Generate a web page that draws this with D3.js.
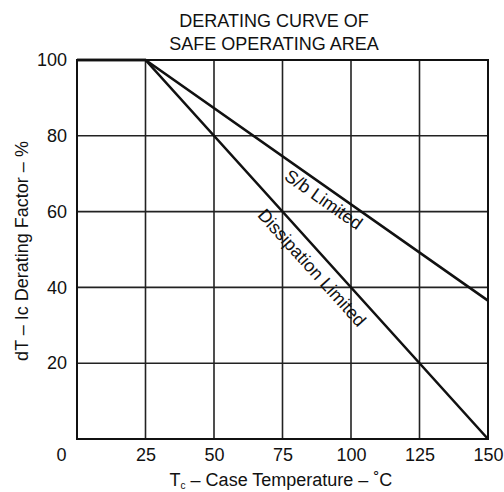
<!DOCTYPE html>
<html>
<head>
<meta charset="utf-8">
<script src="https://cdn.jsdelivr.net/npm/d3@7"></script>
<style>
  body { margin: 0; background: #fff; }
  text { font-family: "Liberation Sans", Arial, sans-serif; fill: #111; }
</style>
</head>
<body>
<div id="chart-container"></div>
<script>
// chart data
const titleLines = ["DERATING CURVE OF", "SAFE OPERATING AREA"];
const xTicks = [0, 25, 50, 75, 100, 125, 150];
const yTicks = [0, 20, 40, 60, 80, 100];
const sbLimited = [[0, 100], [25, 100], [150, 36.5]];
const dissipationLimited = [[0, 100], [25, 100], [150, 0]];

const width = 504, height = 492;
const marginLeft = 77, marginRight = 16, marginTop = 60, marginBottom = 53;
const graphWidth = width - marginLeft - marginRight;
const graphHeight = height - marginTop - marginBottom;

const svg = d3.select("#chart-container")
  .append("svg")
  .attr("width", width)
  .attr("height", height);

const g = svg.append("g")
  .attr("transform", `translate(${marginLeft},${marginTop})`);

const x = d3.scaleLinear().domain([0, 150]).range([0, graphWidth]);
const y = d3.scaleLinear().domain([0, 100]).range([graphHeight, 0]);

// title
svg.selectAll(".title")
  .data(titleLines)
  .enter()
  .append("text")
  .attr("class", "title")
  .attr("x", 274)
  .attr("y", (d, i) => 27 + i * 22.5)
  .attr("text-anchor", "middle")
  .style("font-size", "18px")
  .text(d => d);

// grid
g.selectAll(".vgrid")
  .data(xTicks.slice(1, -1))
  .enter()
  .append("line")
  .attr("x1", d => x(d)).attr("x2", d => x(d))
  .attr("y1", 0).attr("y2", graphHeight)
  .attr("stroke", "#222")
  .attr("stroke-width", 1.6);

g.selectAll(".hgrid")
  .data(yTicks.slice(1, -1))
  .enter()
  .append("line")
  .attr("x1", 0).attr("x2", graphWidth)
  .attr("y1", d => y(d)).attr("y2", d => y(d))
  .attr("stroke", "#222")
  .attr("stroke-width", 1.6);

// frame
g.append("rect")
  .attr("width", graphWidth)
  .attr("height", graphHeight)
  .attr("fill", "none")
  .attr("stroke", "#111")
  .attr("stroke-width", 2);

// axes labels (no tick marks)
const xAxis = g.append("g")
  .attr("transform", `translate(0,${graphHeight})`)
  .call(d3.axisBottom(x).tickValues(xTicks).tickSize(0).tickPadding(9));
xAxis.select(".domain").remove();
xAxis.selectAll("text")
  .style("font-size", "18px")
  .attr("fill", "#111")
  .attr("dx", d => d === 0 ? -16 : 0);

const yAxis = g.append("g")
  .call(d3.axisLeft(y).tickValues(yTicks.slice(1)).tickSize(0).tickPadding(10));
yAxis.select(".domain").remove();
yAxis.selectAll("text")
  .style("font-size", "18px")
  .attr("fill", "#111");

// derating lines
const line = d3.line().x(d => x(d[0])).y(d => y(d[1]));

[sbLimited, dissipationLimited].forEach(series => {
  g.append("path")
    .datum(series)
    .attr("d", line)
    .attr("fill", "none")
    .attr("stroke", "#111")
    .attr("stroke-width", 2.6);
});

// labels along the lines
function lineLabel(series, t, offset, label) {
  const a = series[1], b = series[2];
  const v = a[1] + (b[1] - a[1]) * (t - a[0]) / (b[0] - a[0]);
  const angle = Math.atan2(y(b[1]) - y(a[1]), x(b[0]) - x(a[0])) * 180 / Math.PI;
  g.append("text")
    .attr("transform", `translate(${x(t)},${y(v)}) rotate(${angle})`)
    .attr("dy", offset)
    .attr("text-anchor", "middle")
    .style("font-size", "18px")
    .text(label);
}
lineLabel(sbLimited, 92.5, 18, "S/b Limited");
lineLabel(dissipationLimited, 90, 22, "Dissipation Limited");

// axis titles
const xTitle = svg.append("text")
  .attr("x", 281)
  .attr("y", 486)
  .attr("text-anchor", "middle")
  .style("font-size", "18px");
xTitle.append("tspan").text("T");
xTitle.append("tspan").attr("dy", 3).style("font-size", "10px").text("c");
xTitle.append("tspan").attr("dy", -3).text(" – Case Temperature – ˚C");

svg.append("text")
  .attr("transform", "translate(28,251) rotate(-90)")
  .attr("text-anchor", "middle")
  .style("font-size", "18px")
  .text("dT – Ic Derating Factor – %");
</script>
</body>
</html>
